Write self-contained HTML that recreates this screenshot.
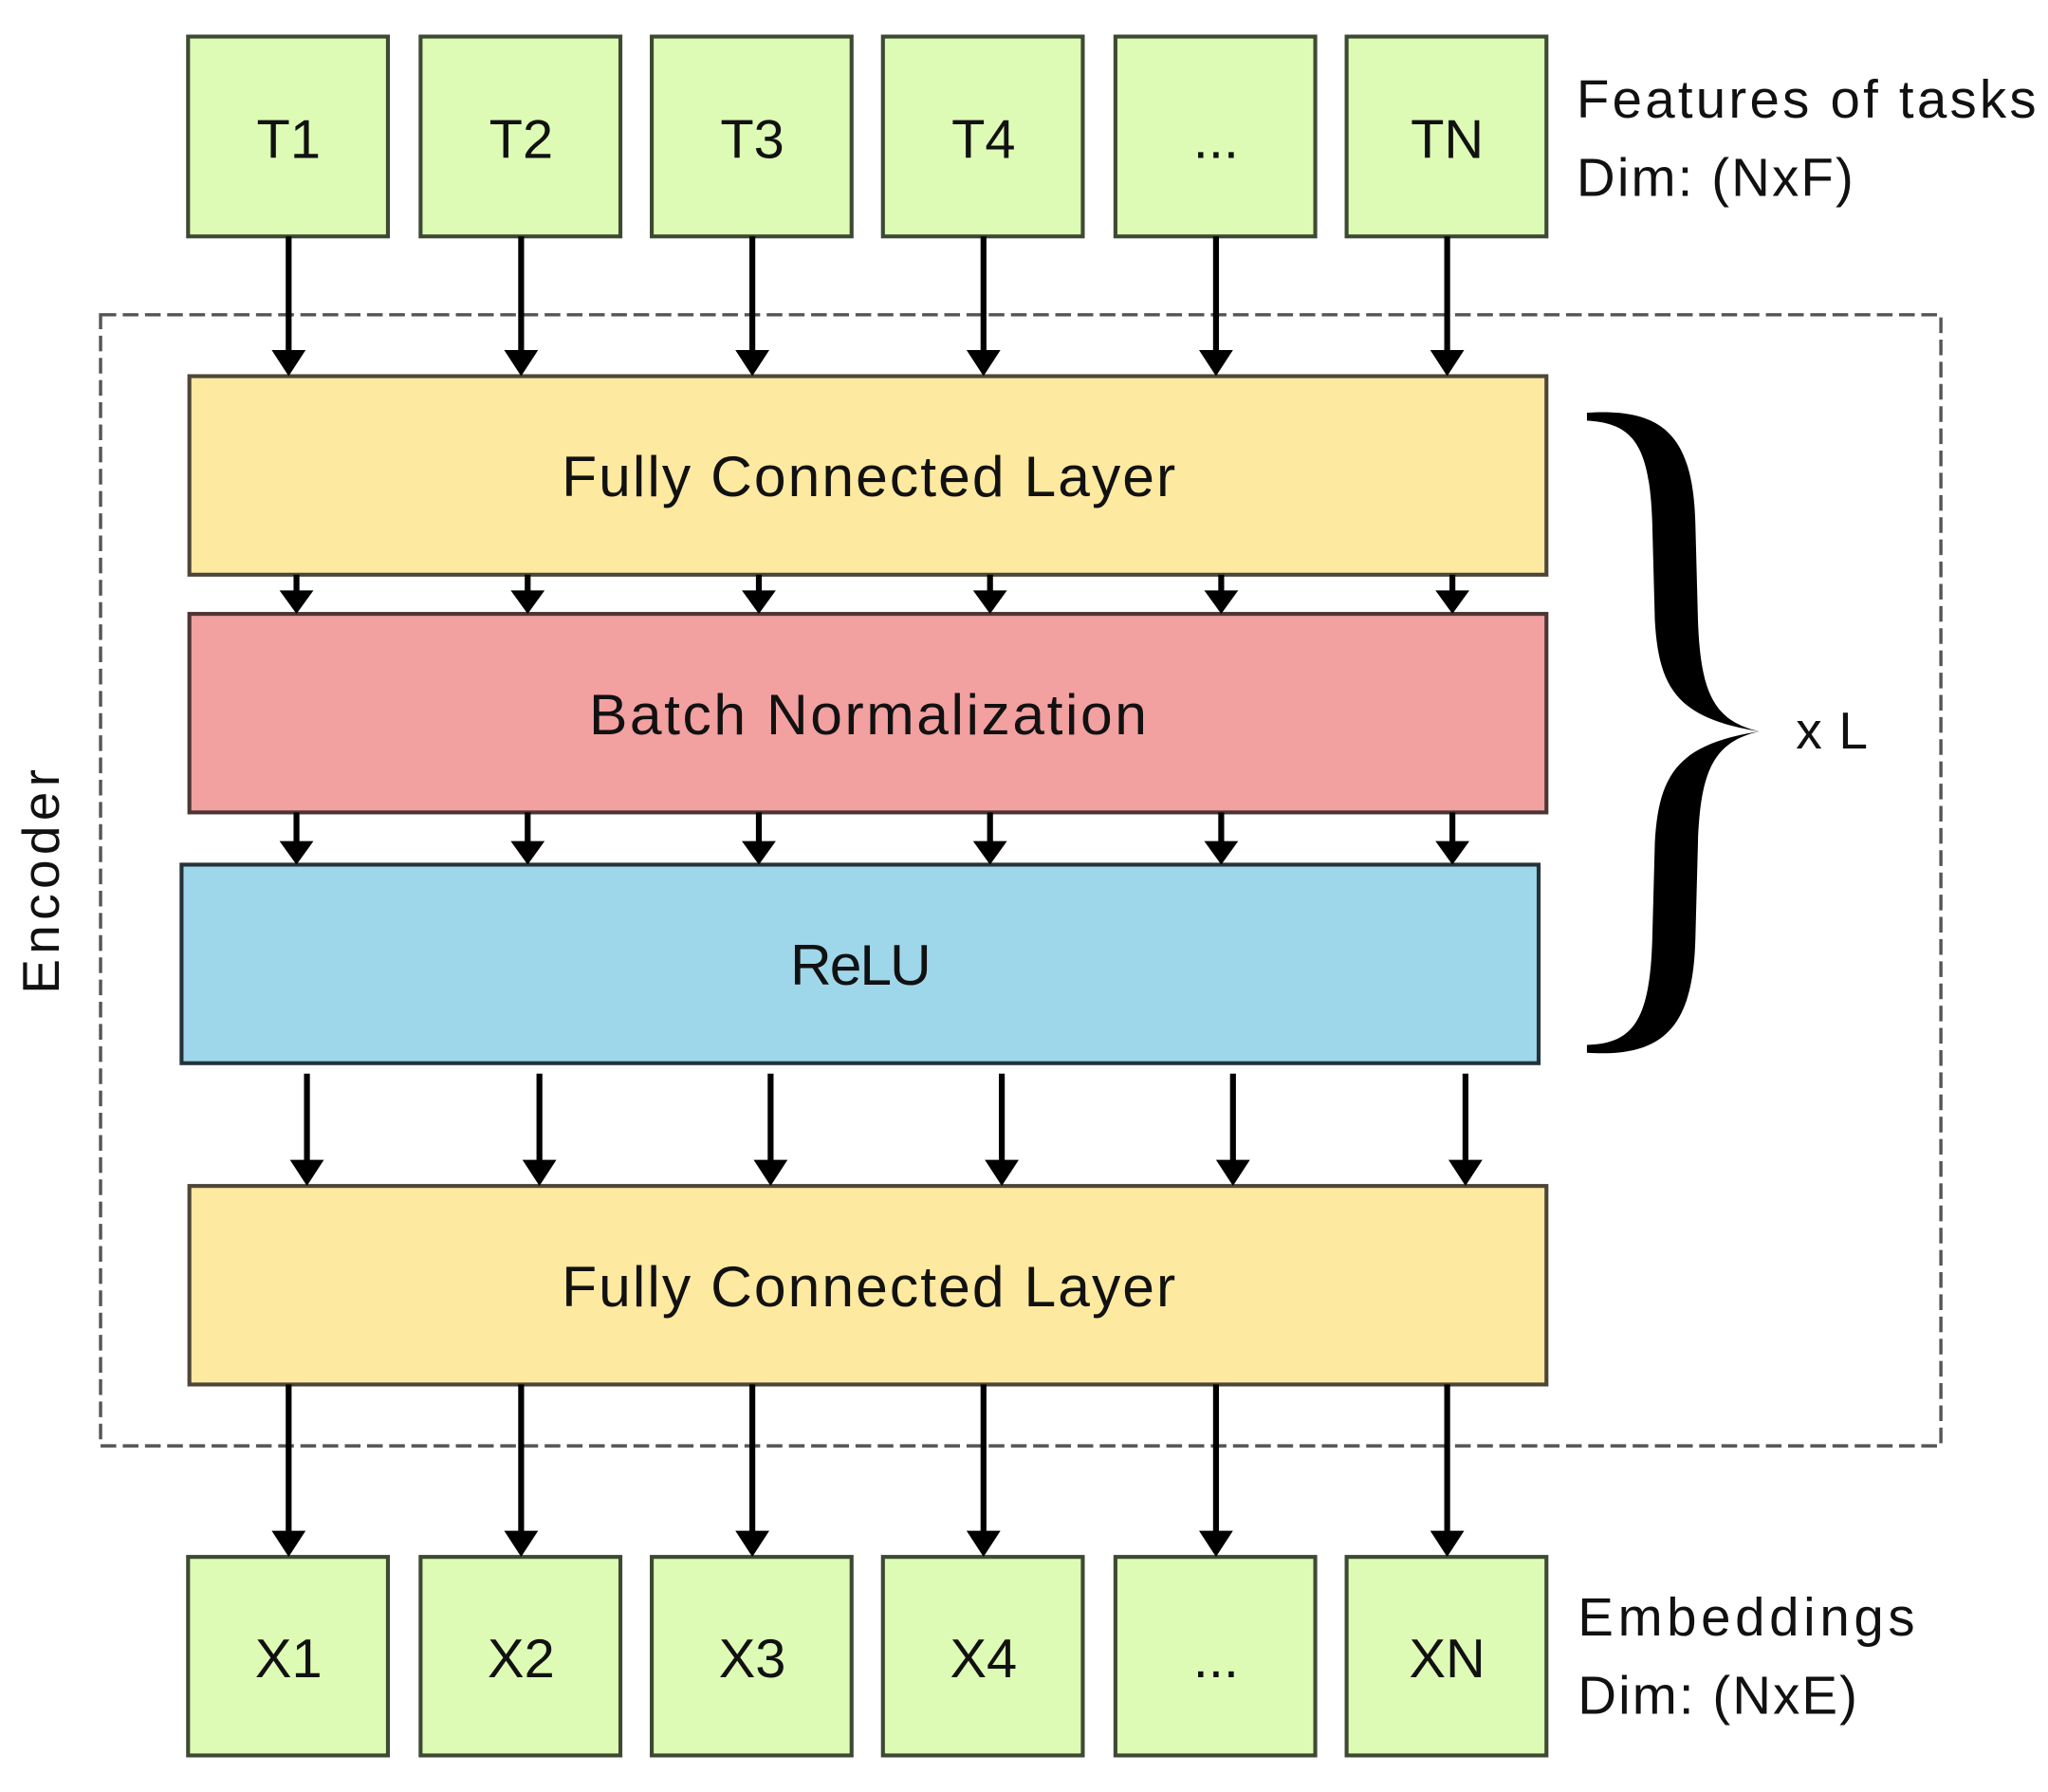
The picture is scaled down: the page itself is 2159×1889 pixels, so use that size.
<!DOCTYPE html>
<html><head><meta charset="utf-8"><style>
html,body{margin:0;padding:0;background:#fff;}
svg{display:block;}
text{font-family:"Liberation Sans",sans-serif;fill:#111;}
</style></head><body>
<svg width="2159" height="1889" viewBox="0 0 1568 1372" preserveAspectRatio="none" xmlns="http://www.w3.org/2000/svg">
<!-- dashed encoder -->
<rect x="77" y="241" width="1409" height="866" fill="none" stroke="#555" stroke-width="2.5" stroke-dasharray="12,5"/>
<text x="0" y="0" font-size="40" text-anchor="middle" textLength="172" transform="translate(45,675) rotate(-90)">Encoder</text>
<!-- boxes -->
<g fill="#ddfbb5" stroke="#3d4a33" stroke-width="3">
<rect x="144" y="28" width="153" height="153"/><rect x="322" y="28" width="153" height="153"/>
<rect x="499" y="28" width="153" height="153"/><rect x="676" y="28" width="153" height="153"/>
<rect x="854" y="28" width="153" height="153"/><rect x="1031" y="28" width="153" height="153"/>
<rect x="144" y="1192" width="153" height="152"/><rect x="322" y="1192" width="153" height="152"/>
<rect x="499" y="1192" width="153" height="152"/><rect x="676" y="1192" width="153" height="152"/>
<rect x="854" y="1192" width="153" height="152"/><rect x="1031" y="1192" width="153" height="152"/>
</g>
<g font-size="42" text-anchor="middle">
<text x="221" y="121">T1</text><text x="399" y="121">T2</text><text x="576" y="121">T3</text>
<text x="753" y="121">T4</text><text x="931" y="121">...</text><text x="1108" y="121">TN</text>
<text x="221" y="1284">X1</text><text x="399" y="1284">X2</text><text x="576" y="1284">X3</text>
<text x="753" y="1284">X4</text><text x="931" y="1284">...</text><text x="1108" y="1284">XN</text>
</g>
<text x="1207" y="90" font-size="41" textLength="352">Features of tasks</text>
<text x="1207" y="150" font-size="41" textLength="212">Dim: (NxF)</text>
<text x="1208" y="1252" font-size="41" textLength="258">Embeddings</text>
<text x="1208" y="1312" font-size="41" textLength="214">Dim: (NxE)</text>
<!-- layers -->
<rect x="145" y="288" width="1039" height="152" fill="#fee9a0" stroke="#4d4638" stroke-width="3"/>
<rect x="145" y="470" width="1039" height="152" fill="#f2a0a0" stroke="#4d3535" stroke-width="3"/>
<rect x="139" y="662" width="1039" height="152" fill="#9ed7ea" stroke="#24323a" stroke-width="3"/>
<rect x="145" y="908" width="1039" height="152" fill="#fee9a0" stroke="#4d4638" stroke-width="3"/>
<g font-size="44">
<text x="430" y="380" textLength="470">Fully Connected Layer</text>
<text x="451" y="562" textLength="427">Batch Normalization</text>
<text x="605" y="754" textLength="108">ReLU</text>
<text x="430" y="1000" textLength="470">Fully Connected Layer</text>
</g>
<!-- arrows -->
<g stroke="#000" stroke-width="4.5">
<path d="M221,181V272M399,181V272M576,181V272M753,181V272M931,181V272M1108,181V272"/>
<path d="M227,440V455M404,440V455M581,440V455M758,440V455M935,440V455M1112,440V455"/>
<path d="M227,622V647M404,622V647M581,622V647M758,622V647M935,622V647M1112,622V647"/>
<path d="M235,822V892M413,822V892M590,822V892M767,822V892M944,822V892M1122,822V892"/>
<path d="M221,1060V1176M399,1060V1176M576,1060V1176M753,1060V1176M931,1060V1176M1108,1060V1176"/>
</g>
<g fill="#000">
<path d="M208,268h26l-13,20z M386,268h26l-13,20z M563,268h26l-13,20z M740,268h26l-13,20z M918,268h26l-13,20z M1095,268h26l-13,20z"/>
<path d="M214,452h26l-13,18z M391,452h26l-13,18z M568,452h26l-13,18z M745,452h26l-13,18z M922,452h26l-13,18z M1099,452h26l-13,18z"/>
<path d="M214,644h26l-13,18z M391,644h26l-13,18z M568,644h26l-13,18z M745,644h26l-13,18z M922,644h26l-13,18z M1099,644h26l-13,18z"/>
<path d="M222,888h26l-13,20z M400,888h26l-13,20z M577,888h26l-13,20z M754,888h26l-13,20z M931,888h26l-13,20z M1109,888h26l-13,20z"/>
<path d="M208,1172h26l-13,20z M386,1172h26l-13,20z M563,1172h26l-13,20z M740,1172h26l-13,20z M918,1172h26l-13,20z M1095,1172h26l-13,20z"/>
</g>
<!-- brace -->
<path fill="#000" d="M1215,316 C1275,312 1296,335 1298,400 L1300,475 C1302,530 1312,552 1347,560 C1312,568 1302,590 1300,645 L1298,720 C1296,785 1275,810 1215,806 L1215,800 C1250,799 1263,782 1265,720 L1267,645 C1270,592 1285,570 1347,560 C1285,550 1270,528 1267,475 L1265,400 C1263,340 1250,324 1215,322 Z"/>
<text x="1375" y="573" font-size="40" textLength="55">x L</text>
</svg>
</body></html>
